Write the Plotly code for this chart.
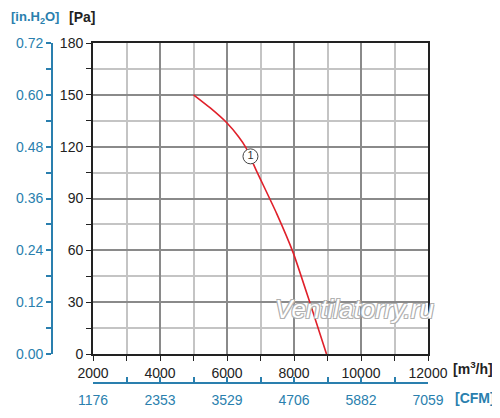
import plotly.graph_objects as go

# fan curve
flow_m3h = [5000, 5500, 6000, 6340, 6560, 6880, 7480, 7980, 8480, 8970]
pressure_pa = [150, 142.4, 133.7, 125.9, 119.6, 106, 81.4, 58.4, 29.4, 0]

m3h_ticks = [2000, 4000, 6000, 8000, 10000, 12000]
cfm_labels = ["1176", "2353", "3529", "4706", "5882", "7059"]
pa_ticks = [0, 30, 60, 90, 120, 150, 180]
inh2o_ticks = [0.00, 0.12, 0.24, 0.36, 0.48, 0.60, 0.72]

curve_label_q = [6700]
curve_label_p = [114.4]

blue = "#2a7fae"
font = "Liberation Sans, Arial, sans-serif"
M3H_PER_CFM = 1.7
PA_PER_INH2O = 250

fig = go.Figure()
fig.add_trace(go.Scatter(x=flow_m3h, y=pressure_pa, mode="lines",
                         line=dict(color="#e0202a", width=1.6, shape="spline", smoothing=0.5),
                         hoverinfo="skip"))
fig.add_trace(go.Scatter(x=curve_label_q, y=curve_label_p, mode="markers+text",
                         marker=dict(symbol="circle", size=15, color="white",
                                     line=dict(color="#444", width=1)),
                         text=["1"], textposition="middle center",
                         textfont=dict(size=11, color="#333", family=font),
                         hoverinfo="skip"))
# same curve in imperial units, invisible, so the blue axes get drawn
fig.add_trace(go.Scatter(x=[q / M3H_PER_CFM for q in flow_m3h],
                         y=[p / PA_PER_INH2O for p in pressure_pa],
                         xaxis="x2", yaxis="y2", mode="lines",
                         line=dict(width=0), opacity=0, hoverinfo="skip"))

# page body has an 8px margin, so the figure is 8px smaller than the window
fig.update_layout(
    width=492, height=410,
    margin=dict(l=2, r=72, t=35, b=20, autoexpand=False),
    paper_bgcolor="white", plot_bgcolor="white",
    showlegend=False,
    font=dict(family=font, size=14, color="#222"),
    xaxis=dict(domain=[0.1986, 1], range=[2000, 12000], tickvals=m3h_ticks,
               tickformat="d", automargin=False,
               showgrid=True, gridcolor="#8a8a8a", gridwidth=1.5,
               showline=True, linecolor="#222", linewidth=2, mirror=True,
               ticks="outside", ticklen=5, tickcolor="#222",
               minor=dict(dtick=1000, showgrid=True, gridcolor="#c4c4c4", gridwidth=1.5,
                          ticks="outside", ticklen=5, tickcolor="#222"),
               zeroline=False, tickfont=dict(size=14, color="#222")),
    yaxis=dict(domain=[0.1239, 1], range=[0, 180], tickvals=pa_ticks, automargin=False,
               showgrid=True, gridcolor="#8a8a8a", gridwidth=1.5,
               showline=True, linecolor="#222", linewidth=2, mirror=True,
               ticks="outside", ticklen=5, tickcolor="#222",
               minor=dict(dtick=15, showgrid=True, gridcolor="#c4c4c4", gridwidth=1.5,
                          ticks="outside", ticklen=5, tickcolor="#222"),
               zeroline=False, tickfont=dict(size=14, color="#222")),
    yaxis2=dict(overlaying="y", anchor="free", position=0.1005, side="left",
                range=[0, 0.72], tickvals=inh2o_ticks, tickformat=".2f", automargin=False,
                showgrid=False, zeroline=False,
                showline=True, linecolor=blue, linewidth=2,
                ticks="outside", ticklen=5, tickcolor=blue, tickwidth=2,
                minor=dict(dtick=0.06, ticks="outside", ticklen=5, tickcolor=blue, tickwidth=2),
                tickfont=dict(size=14, color=blue)),
    xaxis2=dict(overlaying="x", anchor="free", position=0.0423, side="bottom",
                range=[2000 / M3H_PER_CFM, 12000 / M3H_PER_CFM], automargin=False,
                tickvals=[v / M3H_PER_CFM for v in m3h_ticks], ticktext=cfm_labels,
                ticklabelstandoff=4,
                showgrid=False, zeroline=False,
                showline=True, linecolor=blue, linewidth=2,
                ticks="inside", ticklen=5, tickcolor=blue, tickwidth=2,
                minor=dict(tickvals=[v / M3H_PER_CFM for v in [3000, 5000, 7000, 9000, 11000]],
                           ticks="inside", ticklen=5, tickcolor=blue, tickwidth=2),
                tickfont=dict(size=14, color=blue)),
)

# unit labels, placed by pixel position in the window
pw, ph = 418, 355
units = [("[in.H<sub>2</sub>O]", 9, 17, blue, "left", 13),
         ("[Pa]", 82, 17, "#222", "center", 14),
         ("[m<sup>3</sup>/h]", 451, 368, "#222", "left", 14),
         ("[CFM]", 453, 398, blue, "left", 14)]
for text, px, py, col, anchor, size in units:
    fig.add_annotation(text="<b>" + text + "</b>", xref="paper", yref="paper",
                       x=(px - 10) / pw, y=(418 - 20 - py) / ph,
                       xanchor=anchor, yanchor="middle", showarrow=False,
                       font=dict(size=size, color=col, family="Liberation Sans, Arial"))

fig.add_annotation(text="Ventilatorry.ru", xref="paper", yref="paper",
                   x=(354 - 10) / pw, y=(418 - 20 - 309) / ph, showarrow=False,
                   xanchor="center", yanchor="middle",
                   font=dict(size=26, color="white", family=font, style="italic",
                             shadow="1px 1px 0 #b0b0b0, -1px -1px 0 #b0b0b0, 1px -1px 0 #b0b0b0, -1px 1px 0 #b0b0b0"))

fig.write_html("out.html")
